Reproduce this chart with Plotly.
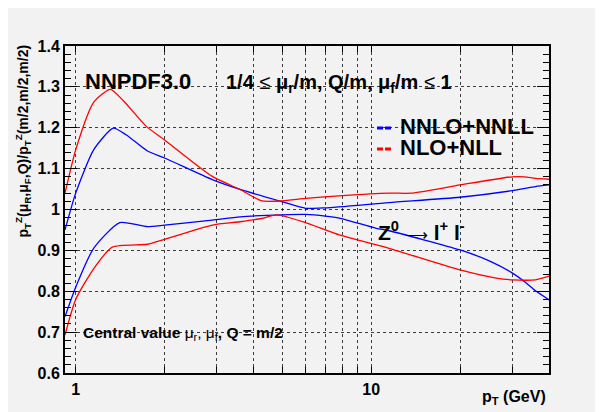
import math
import plotly.graph_objects as go

# ---- data ----
pt_nnlo_up = [0.92, 1.0, 1.15, 1.34, 1.48, 1.75, 2.0, 2.9, 3.6, 5.0, 6.0, 7.0, 11.5, 20, 30, 36, 40]
nnlo_up = [0.950, 1.040, 1.146, 1.199, 1.183, 1.143, 1.126, 1.073, 1.049, 1.019, 1.003, 1.004, 1.017, 1.030, 1.046, 1.056, 1.060]

pt_nnlo_lo = [0.92, 1.0, 1.15, 1.41, 1.75, 2.0, 2.9, 3.6, 5.0, 6.0, 7.0, 7.8, 10.4, 11.5, 20, 25, 30, 33, 36, 40]
nnlo_lo = [0.738, 0.810, 0.905, 0.968, 0.958, 0.962, 0.974, 0.982, 0.987, 0.988, 0.984, 0.979, 0.954, 0.948, 0.901, 0.875, 0.845, 0.824, 0.801, 0.779]

pt_nlo_up = [0.92, 1.0, 1.15, 1.31, 1.45, 1.73, 2.0, 2.9, 3.6, 4.26, 5.0, 6.0, 8.0, 11.5, 13.7, 20, 30, 33, 36, 40]
nlo_up = [1.040, 1.146, 1.262, 1.294, 1.266, 1.204, 1.170, 1.081, 1.049, 1.021, 1.021, 1.027, 1.034, 1.040, 1.040, 1.060, 1.080, 1.080, 1.076, 1.074]

pt_nlo_lo = [0.92, 1.0, 1.15, 1.33, 1.75, 2.0, 2.9, 3.6, 4.26, 4.8, 6.0, 7.8, 11.5, 20, 26.5, 30, 36, 40]
nlo_lo = [0.693, 0.780, 0.855, 0.908, 0.915, 0.927, 0.962, 0.970, 0.978, 0.987, 0.968, 0.938, 0.905, 0.852, 0.832, 0.828, 0.828, 0.837]

x_tickvals = [1, 2, 3, 4, 5, 6, 7, 8, 9, 10, 20, 30, 40]
x_ticktext = ["1", " ", " ", " ", " ", " ", " ", " ", " ", "10", " ", " ", " "]

BLUE = "#0000ff"
RED = "#ff0000"
BG = "#f2f2f2"
FONT = "Liberation Sans, Arial, Helvetica, sans-serif"

# layout geometry (figure pixels; the page adds an 8px body margin)
OFF = 8
W, H = 603 - OFF, 412 - OFF
L, R, T, B = 65 - OFF, 549 - OFF, 46 - OFF, 373 - OFF
pw, ph = R - L, B - T


def px(X):
    return (X - OFF - L) / pw


def py(Y):
    return (B - (Y - OFF)) / ph


fig = go.Figure()
for xs, ys, col in [(pt_nnlo_up, nnlo_up, BLUE), (pt_nnlo_lo, nnlo_lo, BLUE),
                    (pt_nlo_up, nlo_up, RED), (pt_nlo_lo, nlo_lo, RED)]:
    fig.add_trace(go.Scatter(x=xs, y=ys, mode="lines",
                             line=dict(color=col, width=1.3, shape="spline", smoothing=0.6),
                             showlegend=False, hoverinfo="skip"))

GRID = "rgba(0,0,0,0.75)"
axis_common = dict(
    showline=True, linecolor="black", linewidth=2, mirror="ticks",
    ticks="inside", tickcolor="black",
    showgrid=True, gridcolor=GRID, griddash="dot", gridwidth=1,
    zeroline=False,
    tickfont=dict(family=FONT, size=16, color="black", weight="bold"),
)

fig.update_xaxes(type="log", range=[math.log10(0.92), math.log10(40)],
                 tickmode="array", tickvals=x_tickvals, ticktext=x_ticktext,
                 ticklen=6, ticklabelstandoff=1, **axis_common)
fig.update_yaxes(range=[0.6, 1.4], dtick=0.1, tick0=0.6, ticklen=12,
                 minor=dict(dtick=0.02, ticks="inside", ticklen=6, tickcolor="black", showgrid=False),
                 **axis_common)

annotations = [
    dict(text="<b>NNPDF3.0</b>", x=px(83), y=py(81), xanchor="left", yanchor="middle",
         font=dict(size=22)),
    dict(text="<b>1/4 </b>≤<b> μ<sub>r</sub>/m, Q/m, μ<sub>f</sub>/m </b>≤<b> 1</b>",
         x=px(224), y=py(83), xanchor="left", yanchor="middle", font=dict(size=20)),
    dict(text="<b>NNLO+NNLL</b>", x=px(398), y=py(126), xanchor="left", yanchor="middle",
         font=dict(size=22)),
    dict(text="<b>NLO+NLL</b>", x=px(398), y=py(147), xanchor="left", yanchor="middle",
         font=dict(size=22)),
    dict(text="<b>Z<sup>0</sup></b> <span style='font-size:16px'>⟶</span> <b>l<sup>+</sup> l<sup>-</sup></b>",
         x=px(376), y=py(231), xanchor="left", yanchor="middle", font=dict(size=21)),
    dict(text="<b>Central value </b>μ<sub>r</sub>, μ<sub>f</sub><b>, Q = m/2</b>", x=px(81),
         y=py(333), xanchor="left", yanchor="middle", font=dict(size=15.5)),
    dict(text="<b>p<sub>T</sub> (GeV)</b>", x=px(548), y=py(398), xanchor="right",
         yanchor="middle", font=dict(size=16)),
    dict(text="<b>p<sub>T</sub><sup>Z</sup>(μ<sub>R</sub>,μ<sub>F</sub>,Q)/p<sub>T</sub><sup>Z</sup>(m/2,m/2,m/2)</b>",
         x=px(23), y=py(43), xanchor="center", yanchor="top", textangle=-90,
         font=dict(size=14)),
]
for a in annotations:
    a.update(xref="paper", yref="paper", showarrow=False)
    a["font"].update(family=FONT, color="black")

shapes = [
    dict(type="line", xref="paper", yref="paper", x0=px(377), x1=px(392), y0=py(128), y1=py(128),
         line=dict(color=BLUE, width=3, dash="6px,2px")),
    dict(type="line", xref="paper", yref="paper", x0=px(377), x1=px(392), y0=py(149), y1=py(149),
         line=dict(color=RED, width=3, dash="6px,2px")),
]

fig.update_layout(
    width=W, height=H,
    margin=dict(l=L, r=W - R, t=T, b=H - B, pad=0),
    paper_bgcolor=BG, plot_bgcolor=BG,
    font=dict(family=FONT, color="black"),
    annotations=annotations, shapes=shapes,
    showlegend=False,
)

fig.write_html("out.html")
